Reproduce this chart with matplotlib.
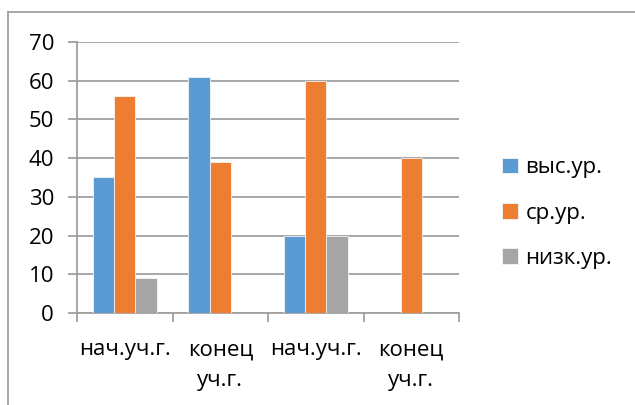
import matplotlib
matplotlib.use("Agg")
import matplotlib.pyplot as plt
import numpy as np
from matplotlib.lines import Line2D

categories = ["нач.уч.г.", "конец\nуч.г.", "нач.уч.г.", "конец\nуч.г."]
series_names = ["выс.ур.", "ср.ур.", "низк.ур."]
high = [35, 61, 20, 0]
mid = [56, 39, 60, 40]
low = [9, 0, 20, 0]
colors = ["#5B9BD5", "#ED7D31", "#A5A5A5"]
yticks = [0, 10, 20, 30, 40, 50, 60, 70]

plt.rcParams['font.family'] = ['Open Sans', 'DejaVu Sans']
W, H = 635, 405
fig = plt.figure(figsize=(W / 100, H / 100), dpi=100)
ax = fig.add_axes([77 / W, 1 - 313 / H, (459 - 77) / W, (313 - 42) / H])

x = np.arange(len(categories))
bw = 1 / 4.5
for i, (vals, name, c) in enumerate(zip([high, mid, low], series_names, colors)):
    ax.bar(x + (i - 1) * bw, vals, width=bw, color=c, label=name,
           edgecolor="#f4f4f4", linewidth=0.6, zorder=3)

ax.set_xlim(-0.5, len(categories) - 0.5)
ax.set_ylim(0, 70)
ax.set_yticks(yticks)
ax.set_yticklabels([str(v) for v in yticks])
grid_c = "#A0A0A0"
ax.yaxis.grid(True, color=grid_c, linewidth=1.3, zorder=0)
for s in ["top", "right"]:
    ax.spines[s].set_visible(False)
ax.spines["left"].set_color(grid_c)
ax.spines["left"].set_linewidth(1.3)
ax.spines["bottom"].set_color(grid_c)
ax.spines["bottom"].set_linewidth(1.3)

ax.set_xticks(x)
ax.set_xticklabels(categories, linespacing=1.6, va="top")
ax.set_xticks(np.arange(-0.5, len(categories), 1), minor=True)
ax.tick_params(axis="x", which="major", length=0, pad=19, labelsize=16)
ax.tick_params(axis="x", which="minor", length=6.5, width=1.3, color=grid_c)
ax.tick_params(axis="y", length=6.5, width=1.3, color=grid_c, pad=10, labelsize=16)

leg = fig.legend(loc="center left", bbox_to_anchor=(502 / W, 1 - 213 / H),
                 frameon=False, fontsize=16, handlelength=0.7, handleheight=0.7,
                 handletextpad=0.35, labelspacing=1.1, borderpad=0, borderaxespad=0)

fig.add_artist(Line2D([8 / W, 8 / W], [0, 1 - 12 / H], transform=fig.transFigure,
                      color="#9a9a9a", linewidth=1.2))
fig.add_artist(Line2D([8 / W, 1], [1 - 12 / H, 1 - 12 / H], transform=fig.transFigure,
                      color="#9a9a9a", linewidth=1.2))

fig.savefig("out.png", dpi=100)
